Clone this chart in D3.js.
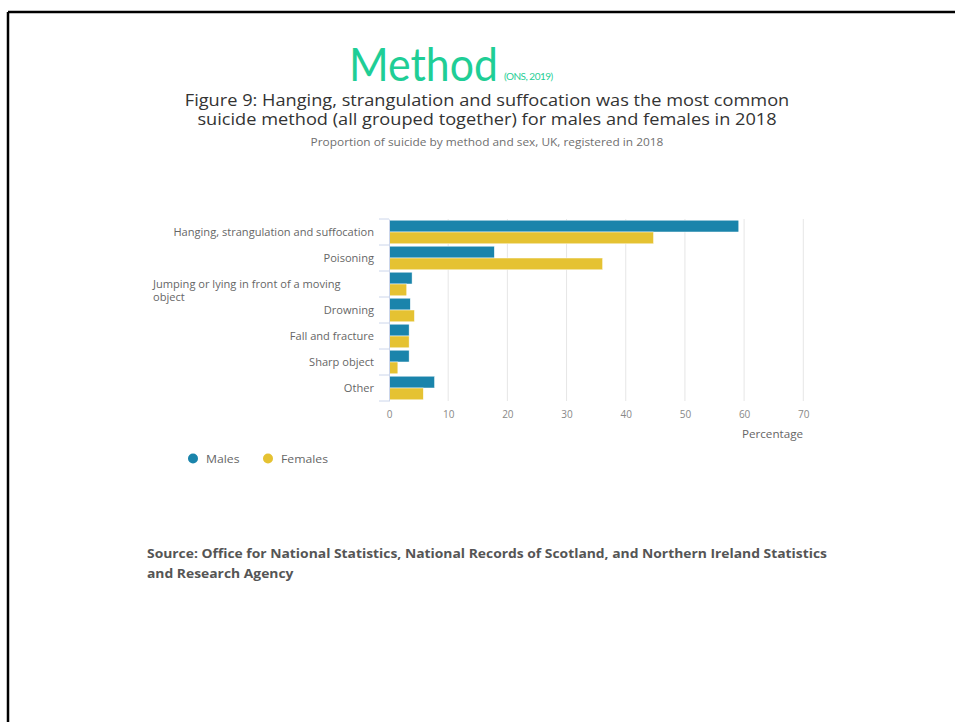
<!DOCTYPE html>
<html>
<head>
<meta charset="utf-8">
<script src="https://cdn.jsdelivr.net/npm/d3@7"></script>
<style>
  html, body { margin: 0; padding: 0; background: #fff; }
  svg { display: block; }
</style>
</head>
<body>
<script>
// Suicide method by sex, UK, registered 2018 (percent)
const categories = [
  "Hanging, strangulation and suffocation",
  "Poisoning",
  "Jumping or lying in front of a moving object",
  "Drowning",
  "Fall and fracture",
  "Sharp object",
  "Other"
];
const males   = [59.1, 17.8, 3.9, 3.6, 3.4, 3.4, 7.7];
const females = [44.7, 36.1, 3.0, 4.3, 3.4, 1.5, 5.8];
const seriesNames = ["Males", "Females"];
const seriesColors = ["#1a84ab", "#e5c232"];
const xTicks = [0, 10, 20, 30, 40, 50, 60, 70];

const W = 955, H = 722;
const SX = 1.11; // horizontal text stretch of the page layout
const svg = d3.select("body").append("svg").attr("width", W).attr("height", H);

// text placed at (x, y), widened horizontally around its anchor
function label(parent, x, y, str, opts) {
  const o = Object.assign({ anchor: "start", size: 10, fill: "#666", weight: "normal",
    family: "'Open Sans', sans-serif", sx: SX }, opts || {});
  const g = parent.append("g").attr("transform", `translate(${x},${y}) scale(${o.sx},1)`);
  return g.append("text").attr("text-anchor", o.anchor).attr("font-family", o.family)
    .attr("font-size", o.size).attr("font-weight", o.weight).attr("fill", o.fill).text(str);
}

// page frame (top and left edge)
svg.append("line").attr("x1", 8).attr("x2", W).attr("y1", 12).attr("y2", 12)
  .attr("stroke", "#000").attr("stroke-width", 2.5);
svg.append("line").attr("x1", 8).attr("x2", 8).attr("y1", 12).attr("y2", H)
  .attr("stroke", "#000").attr("stroke-width", 2.5);

// heading
label(svg, 349, 81, "Method", { family: "Lato, sans-serif", size: 47, fill: "#1fce96", sx: 0.91 });
label(svg, 504, 80, "(ONS, 2019)", { family: "Lato, sans-serif", size: 10, fill: "#1fce96", sx: 1.0 })
  .attr("letter-spacing", -0.5);

// chart title (two lines) and subtitle
const title = label(svg, 487, 106, "", { anchor: "middle", size: 16.4, fill: "#333" });
title.append("tspan").attr("x", 0).attr("y", 0)
  .text("Figure 9: Hanging, strangulation and suffocation was the most common");
title.append("tspan").attr("x", 0).attr("y", 19)
  .text("suicide method (all grouped together) for males and females in 2018");
label(svg, 487, 146, "Proportion of suicide by method and sex, UK, registered in 2018",
  { anchor: "middle", size: 10.7, fill: "#707070" });

// scales
const x = d3.scaleLinear().domain([0, 70]).range([389, 803.3]);
const y = d3.scaleBand().domain(categories).range([219, 401]).paddingInner(0).paddingOuter(0);
const inner = d3.scaleBand().domain(seriesNames).range([0, y.bandwidth()]).paddingInner(0).paddingOuter(0.1);

// gridlines
svg.append("g").selectAll("line").data(xTicks.slice(1)).join("line")
  .attr("x1", d => x(d)).attr("x2", d => x(d))
  .attr("y1", 219).attr("y2", 401)
  .attr("stroke", "#e6e6e6").attr("stroke-width", 1);

// bars
const rows = categories.map((c, i) => ({ c, vals: [males[i], females[i]] }));
const g = svg.append("g");
rows.forEach(r => {
  r.vals.forEach((v, j) => {
    g.append("rect")
      .attr("x", x(0))
      .attr("y", y(r.c) + inner(seriesNames[j]))
      .attr("width", x(v) - x(0))
      .attr("height", inner.bandwidth())
      .attr("fill", seriesColors[j])
      .attr("stroke", "#fff").attr("stroke-width", 0.5);
  });
});

// category axis
const yAxis = d3.axisLeft(y).tickSize(0).tickFormat("");
const ya = svg.append("g").attr("transform", `translate(${x(0)},0)`).call(yAxis);
ya.select(".domain").attr("stroke", "#ccd6eb");
// category boundary ticks
svg.append("g").selectAll("line").data(d3.range(categories.length + 1)).join("line")
  .attr("x1", 379).attr("x2", x(0))
  .attr("y1", i => 219 + i * y.bandwidth()).attr("y2", i => 219 + i * y.bandwidth())
  .attr("stroke", "#ccd6eb");

// category labels
categories.forEach((c, i) => {
  const cy = y(c) + y.bandwidth() / 2 + 3.5;
  if (i === 2) {
    const t = label(svg, 153, cy + 0.5, "");
    t.append("tspan").attr("x", 0).attr("y", 0).text("Jumping or lying in front of a moving");
    t.append("tspan").attr("x", 0).attr("y", 13.5).text("object");
  } else {
    label(svg, 374, cy, c, { anchor: "end" });
  }
});

// value axis
const xAxis = d3.axisBottom(x).tickValues(xTicks).tickSize(0).tickPadding(10);
const xa = svg.append("g").attr("transform", "translate(0,401)").call(xAxis);
xa.select(".domain").remove();
xa.selectAll("text").attr("font-family", "'Open Sans', sans-serif").attr("font-size", 10)
  .attr("fill", "#888");
label(svg, 803, 438, "Percentage", { anchor: "end", size: 10.5 });

// legend
const legX = [193, 268];
seriesNames.forEach((s, j) => {
  svg.append("circle").attr("cx", legX[j]).attr("cy", 458.5).attr("r", 5).attr("fill", seriesColors[j]);
  label(svg, legX[j] + 13, 463, s, { size: 11 });
});

// source note
const src = label(svg, 147, 558, "", { size: 12.5, weight: "bold", fill: "#555" });
src.append("tspan").attr("x", 0).attr("y", 0)
  .text("Source: Office for National Statistics, National Records of Scotland, and Northern Ireland Statistics");
src.append("tspan").attr("x", 0).attr("y", 20).text("and Research Agency");
</script>
</body>
</html>
